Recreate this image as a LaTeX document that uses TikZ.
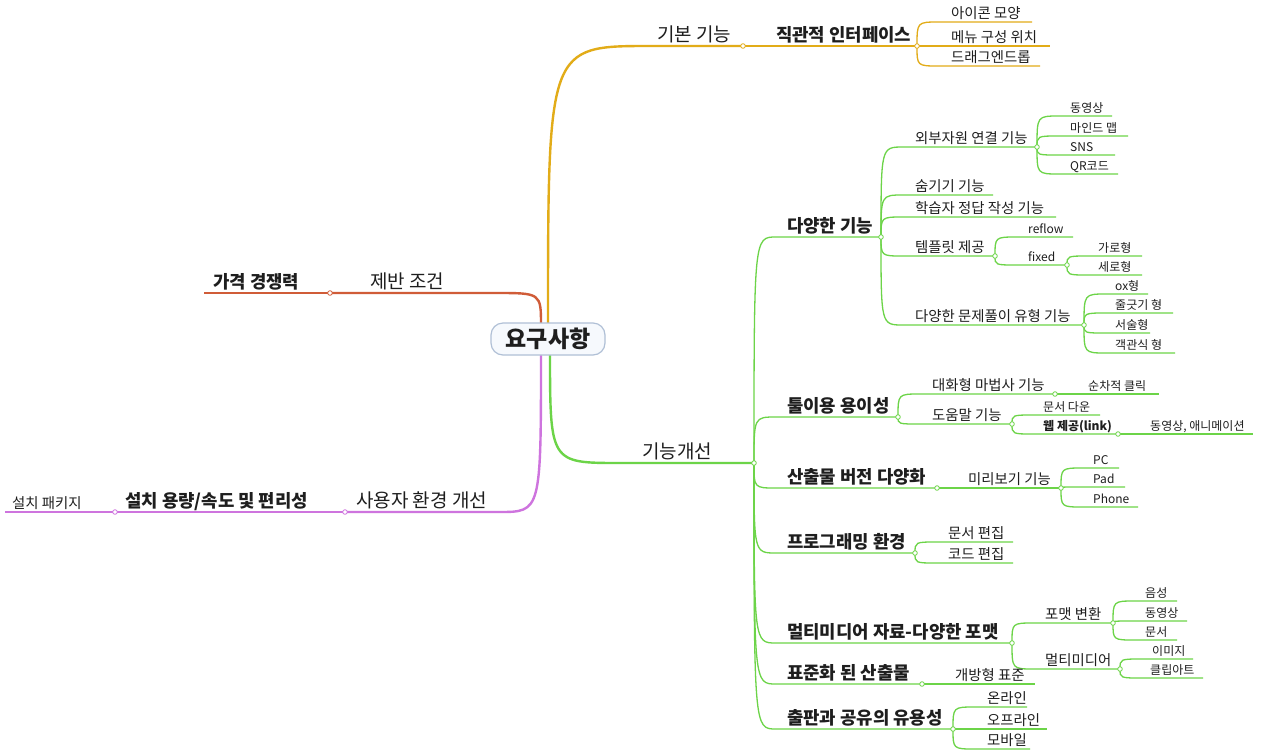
\documentclass[tikz,border=0pt]{standalone}
\usepackage{fontspec}
\setmainfont{Noto Sans CJK KR}
\usetikzlibrary{calc}
\definecolor{grn}{RGB}{108,212,72}
\definecolor{gld}{RGB}{226,172,24}
\definecolor{redb}{RGB}{208,92,56}
\definecolor{pur}{RGB}{206,116,222}
\definecolor{txt}{RGB}{30,30,30}
\definecolor{rootbd}{RGB}{176,192,214}
\definecolor{rootbg}{RGB}{246,249,253}
\tikzset{
 basetxt/.style={anchor=base west, inner sep=0pt, text=txt},
 t1/.style={basetxt, font=\fontsize{19}{22}\selectfont, yshift=5pt},
 t2/.style={basetxt, font=\fontsize{17.8}{21}\selectfont\bfseries, yshift=5pt},
 t3/.style={basetxt, font=\fontsize{14.4}{17}\selectfont, yshift=4pt},
 t4/.style={basetxt, font=\fontsize{12}{14}\selectfont, yshift=3.5pt},
 t4b/.style={basetxt, font=\fontsize{12}{14}\selectfont\bfseries, yshift=3.5pt},
 dot/.style={circle, draw=#1, fill=white, line width=0.8pt, minimum size=4.6pt, inner sep=0pt},
 ln/.style={line width=1.3pt},
 thk/.style={line width=2.4pt},
 rootbox/.style={draw=rootbd, fill=rootbg, rounded corners=12pt, line width=1.2pt,
   minimum width=114pt, minimum height=32pt, inner sep=0pt,
   font=\fontsize{23}{26}\selectfont\bfseries, text=txt},
}
% #1 name, #2 parent, #3 end x, #4 line y, #5 text x, #6 style, #7 text, #8 colour
\newcommand\kid[8]{%
  \coordinate (#1) at (#3,#4);
  \draw[ln, draw=#8] (#2) .. controls (#2 |- #1) .. ($(#2 |- #1)+(22,0)$) -- (#1);
  \node[#6] (#1t) at (#5,#4) {#7};
}
\begin{document}
\begin{tikzpicture}[x=1pt,y=-1pt]
\useasboundingbox (0,0) rectangle (1263,753);
\fill[white] (0,0) rectangle (1263,753);

% ---------- gold: 기본 기능 ----------
\coordinate (g0) at (548,326);
\coordinate (g1) at (743,46);
\draw[thk, gld] (g0) .. controls (g0 |- g1) .. ($(g0 |- g1)+(102,0)$) -- (g1);
\node[t1] (g1t) at (657,46) {기본 기능};
\coordinate (g2) at (917,46);
\draw[gld, line width=1.6pt] (g1) -- (g2);
\node[t2] (g2t) at (776,46) {직관적 인터페이스};
\kid{g3}{g2}{1032}{22}{951}{t3}{아이콘 모양}{gld}
\kid{g4}{g2}{1050}{46}{951}{t3}{메뉴 구성 위치}{gld}
\kid{g5}{g2}{1040}{66}{951}{t3}{드래그엔드롭}{gld}

% ---------- red: 제반 조건 ----------
\coordinate (r0) at (541,326);
\coordinate (r1) at (330,293);
\draw[thk, redb] (r0) .. controls (r0 |- r1) .. ($(r0 |- r1)+(-45,0)$) -- (r1);
\node[t1] (r1t) at (370,293) {제반 조건};
\coordinate (r2) at (204,293);
\draw[redb, line width=1.6pt] (r1) -- (r2);
\node[t2] (r2t) at (213,293) {가격 경쟁력};

% ---------- purple: 사용자 환경 개선 ----------
\coordinate (p0) at (541,352);
\coordinate (p1) at (345,512);
\draw[thk, pur] (p0) .. controls (p0 |- p1) .. ($(p0 |- p1)+(-42,0)$) -- (p1);
\node[t1] (p1t) at (356,512) {사용자 환경 개선};
\coordinate (p2) at (115,512);
\draw[pur, line width=1.6pt] (p1) -- (p2);
\node[t2] (p2t) at (125,512) {설치 용량/속도 및 편리성};
\coordinate (p3) at (5,512);
\draw[pur, ln] (p2) -- (p3);
\node[t3] (p3t) at (12,512) {설치 패키지};

% ---------- green: 기능개선 ----------
\coordinate (n0) at (550,352);
\coordinate (n1) at (754,463);
\draw[thk, grn] (n0) .. controls (n0 |- n1) .. ($(n0 |- n1)+(70,0)$) -- (n1);
\node[t1] (n1t) at (642,463) {기능개선};

\kid{d1}{n1}{881}{237}{787}{t2}{다양한 기능}{grn}
\kid{d2}{n1}{898}{417}{787}{t2}{툴이용 용이성}{grn}
\kid{d3}{n1}{937}{488}{787}{t2}{산출물 버전 다양화}{grn}
\kid{d4}{n1}{915}{553}{787}{t2}{프로그래밍 환경}{grn}
\kid{d5}{n1}{1012}{643}{787}{t2}{멀티미디어 자료-다양한 포맷}{grn}
\kid{d6}{n1}{922}{684}{787}{t2}{표준화 된 산출물}{grn}
\kid{d7}{n1}{953}{729}{787}{t2}{출판과 공유의 유용성}{grn}

% 다양한 기능
\kid{a1}{d1}{1037}{147}{915}{t3}{외부자원 연결 기능}{grn}
\kid{a11}{a1}{1112}{116}{1070}{t4}{동영상}{grn}
\kid{a12}{a1}{1128}{136}{1070}{t4}{마인드 맵}{grn}
\kid{a13}{a1}{1115}{155}{1070}{t4}{SNS}{grn}
\kid{a14}{a1}{1118}{174}{1070}{t4}{QR코드}{grn}
\kid{a2}{d1}{993}{195}{915}{t3}{숨기기 기능}{grn}
\kid{a3}{d1}{1056}{217}{915}{t3}{학습자 정답 작성 기능}{grn}
\kid{a4}{d1}{995}{256}{915}{t3}{템플릿 제공}{grn}
\kid{b1}{a4}{1073}{237}{1028}{t4}{reflow}{grn}
\kid{b2}{a4}{1067}{265}{1028}{t4}{fixed}{grn}
\kid{c1}{b2}{1142}{256}{1098}{t4}{가로형}{grn}
\kid{c2}{b2}{1142}{275}{1098}{t4}{세로형}{grn}
\kid{a5}{d1}{1084}{325}{915}{t3}{다양한 문제풀이 유형 기능}{grn}
\kid{a51}{a5}{1148}{294}{1115}{t4}{ox형}{grn}
\kid{a52}{a5}{1173}{313}{1115}{t4}{줄긋기 형}{grn}
\kid{a53}{a5}{1150}{333}{1115}{t4}{서술형}{grn}
\kid{a54}{a5}{1175}{353}{1115}{t4}{객관식 형}{grn}

% 툴이용 용이성
\kid{e1}{d2}{1055}{394}{932}{t3}{대화형 마법사 기능}{grn}
\kid{e11}{e1}{1159}{394}{1088}{t4}{순차적 클릭}{grn}
\kid{e2}{d2}{1012}{424}{932}{t3}{도움말 기능}{grn}
\kid{e3}{e2}{1100}{415}{1043}{t4}{문서 다운}{grn}
\kid{e4}{e2}{1118}{434}{1043}{t4b}{웹 제공(link)}{grn}
\kid{e41}{e4}{1253}{434}{1150}{t4}{동영상, 애니메이션}{grn}

% 산출물 버전 다양화
\kid{f1}{d3}{1061}{488}{968}{t3}{미리보기 기능}{grn}
\kid{f11}{f1}{1119}{468}{1093}{t4}{PC}{grn}
\kid{f12}{f1}{1125}{487}{1093}{t4}{Pad}{grn}
\kid{f13}{f1}{1138}{507}{1093}{t4}{Phone}{grn}

% 프로그래밍 환경
\kid{k1}{d4}{1013}{542}{948}{t3}{문서 편집}{grn}
\kid{k2}{d4}{1013}{563}{948}{t3}{코드 편집}{grn}

% 멀티미디어 자료
\kid{h1}{d5}{1113}{623}{1045}{t3}{포맷 변환}{grn}
\kid{h11}{h1}{1177}{601}{1145}{t4}{음성}{grn}
\kid{h12}{h1}{1187}{621}{1145}{t4}{동영상}{grn}
\kid{h13}{h1}{1177}{640}{1145}{t4}{문서}{grn}
\kid{h2}{d5}{1120}{669}{1045}{t3}{멀티미디어}{grn}
\kid{h21}{h2}{1193}{659}{1152}{t4}{이미지}{grn}
\kid{h22}{h2}{1203}{678}{1150}{t4}{클립아트}{grn}

% 표준화 된 산출물
\kid{m1}{d6}{1035}{684}{955}{t3}{개방형 표준}{grn}

% 출판과 공유의 유용성
\kid{o1}{d7}{1027}{707}{987}{t3}{온라인}{grn}
\kid{o2}{d7}{1047}{729}{987}{t3}{오프라인}{grn}
\kid{o3}{d7}{1030}{749}{987}{t3}{모바일}{grn}

% junction dots
\foreach \j in {g1,g2} \node[dot=gld] (\j c) at (\j) {};
\foreach \j in {r1} \node[dot=redb] (\j c) at (\j) {};
\foreach \j in {p1,p2} \node[dot=pur] (\j c) at (\j) {};
\foreach \j in {n1,d1,d2,d3,d4,d5,d6,d7,a1,a4,a5,b2,e1,e2,e4,f1,h1,h2}
  \node[dot=grn] (\j c) at (\j) {};

% root
\node[rootbox] (root) at (548,339) {요구사항};
\end{tikzpicture}
\end{document}
